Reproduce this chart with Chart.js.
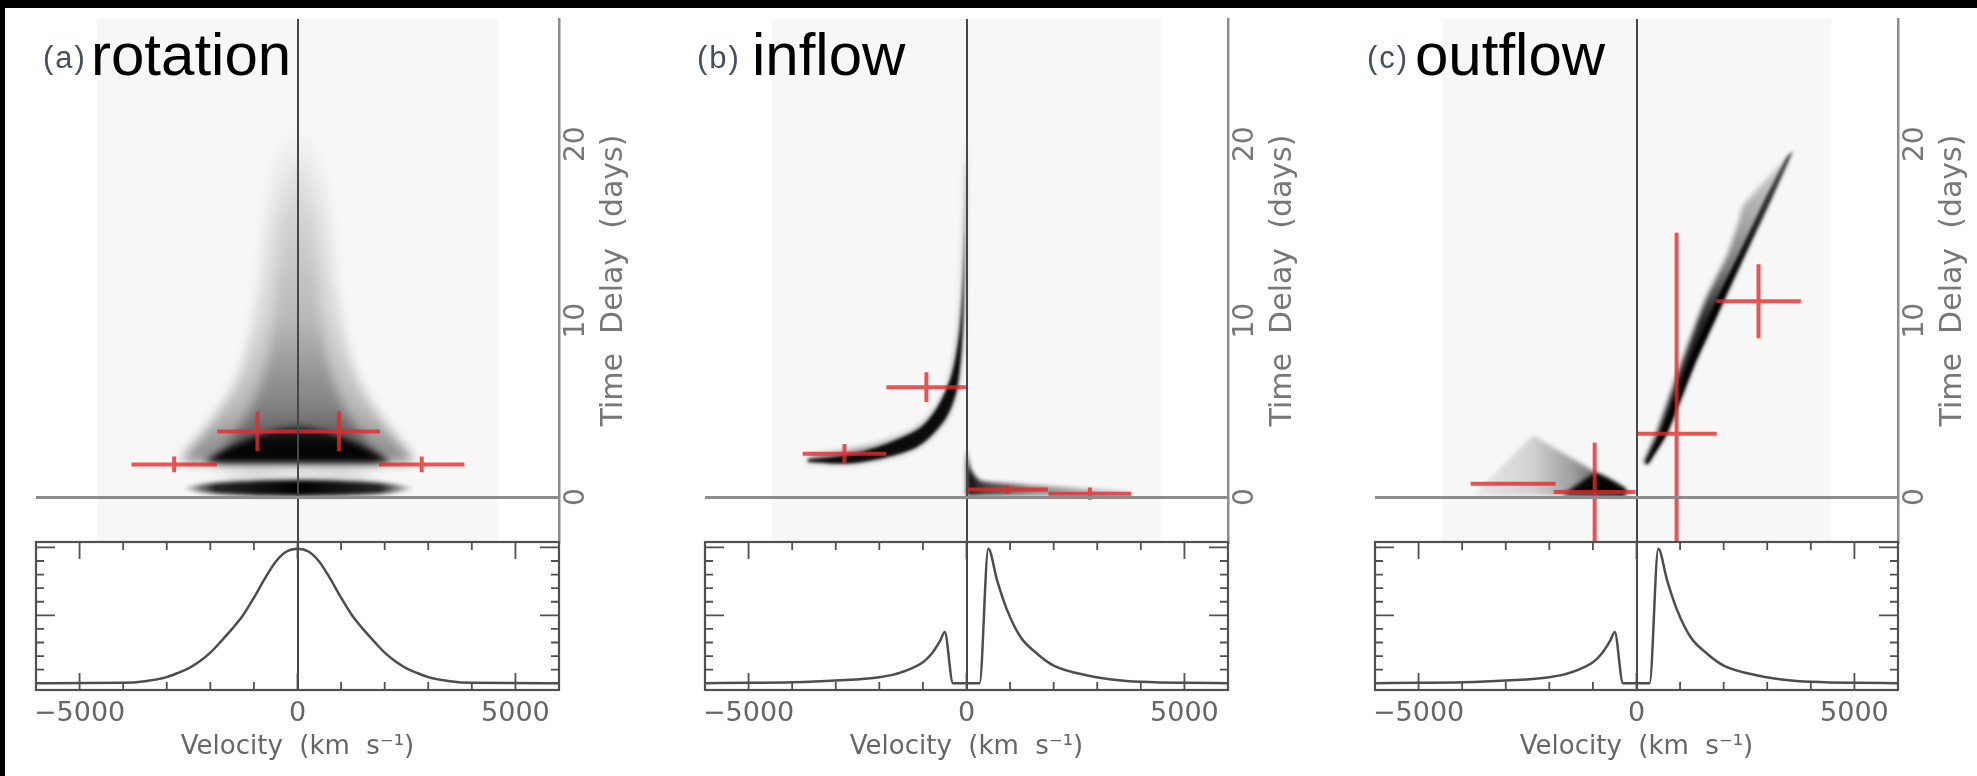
<!DOCTYPE html>
<html>
<head>
<meta charset="utf-8">
<title>Velocity-delay maps</title>
<script src="https://cdn.jsdelivr.net/npm/chart.js@4.4.1/dist/chart.umd.min.js"></script>
<style>
  html, body { margin: 0; padding: 0; width: 1977px; height: 776px; overflow: hidden; background: #000; }
  #sheet { position: absolute; left: 5px; top: 8px; width: 1972px; height: 768px; background: #fff; }
  canvas { position: absolute; top: 8px; }
  .tag { position: absolute; top: 42px; font: 31px/31px "Liberation Sans", Arial, sans-serif; color: #45505e; letter-spacing: 2px; }
  .name { position: absolute; top: 25px; font: 60px/60px "Liberation Sans", Arial, sans-serif; color: #000; }
</style>
</head>
<body>
<div id="sheet"></div>
<canvas id="panelA" width="623" height="768" style="left:26px"></canvas>
<canvas id="panelB" width="623" height="768" style="left:695px"></canvas>
<canvas id="panelC" width="623" height="768" style="left:1365px"></canvas>
<div class="tag" style="left:43px">(a)</div><div class="name" style="left:91px">rotation</div>
<div class="tag" style="left:697px">(b)</div><div class="name" style="left:752px">inflow</div>
<div class="tag" style="left:1367px">(c)</div><div class="name" style="left:1415px">outflow</div>
<script>
// axes
const velocityTicks = [-6000, -5000, -4000, -3000, -2000, -1000, 0, 1000, 2000, 3000, 4000, 5000, 6000];
const velocityLabels = [-5000, 0, 5000];
const delayLabels = [0, 10, 20];
const fluxTicks = [0, 0.1, 0.2, 0.3, 0.4, 0.5, 0.6, 0.7, 0.8, 0.9, 1];
const fluxMajor = [0, 0.5, 1];
const velocityRange = [-6000, 6000];
const delayRange = [-2.55, 27.1];
const fluxRange = [-0.05, 1.04];
const shadeHalfWidth = [4600, 4470, 4470];

// line profiles (lower boxes)
const rotProfileV = [-6000, -4000, -3500, -3000, -2750, -2500, -2250, -2000, -1750, -1500, -1250, -1000, -750, -500, -250, 0, 250, 500, 750, 1000, 1250, 1500, 1750, 2000, 2250, 2500, 2750, 3000, 3500, 4000, 6000];
const rotProfileF = [0, 0.003, 0.015, 0.045, 0.075, 0.11, 0.16, 0.225, 0.31, 0.40, 0.50, 0.63, 0.77, 0.895, 0.97, 0.99, 0.97, 0.895, 0.77, 0.63, 0.50, 0.40, 0.31, 0.225, 0.16, 0.11, 0.075, 0.045, 0.015, 0.003, 0];
const flowProfileV = [-6000, -5000, -4000, -3000, -2000, -1500, -1000, -800, -600, -500, -310, 0, 300, 500, 700, 930, 1240, 1620, 2000, 2780, 3550, 4320, 5000, 6000];
const flowProfileF = [0, 0.003, 0.007, 0.02, 0.044, 0.08, 0.155, 0.217, 0.315, 0.377, 0, 0, 0, 0.99, 0.76, 0.54, 0.34, 0.217, 0.13, 0.057, 0.02, 0.007, 0.003, 0];

// recovered delays (red crosses): centre, half-width in velocity and delay
const rotCrossV = [-920, 950, -2830, 2850];
const rotCrossT = [3.72, 3.72, 1.85, 1.85];
const rotCrossDV = [920, 940, 980, 980];
const rotCrossDT = [1.13, 1.13, 0.45, 0.45];
const inCrossV = [-2800, -920, 940, 2830];
const inCrossT = [2.45, 6.23, 0.42, 0.19];
const inCrossDV = [960, 920, 930, 950];
const inCrossDT = [0.55, 0.85, 0.25, 0.35];
const outCrossV = [-2830, -960, 920, 2800];
const outCrossT = [0.75, 0.28, 3.58, 11.1];
const outCrossDV = [975, 940, 920, 970];
const outCrossDT = [0.1, 2.8, 11.4, 2.1];

// transfer-function outlines [velocity, delay]
const rotEnvelope = [[-2650, 1.95], [-2600, 2.3], [-2300, 3.2], [-1900, 4.5], [-1420, 6.4], [-1150, 8.3], [-880, 12], [-740, 15.9], [-560, 18.5], [-350, 20], [0, 20.6], [350, 20], [560, 18.5], [740, 15.9], [880, 12], [1150, 8.3], [1420, 6.4], [1900, 4.5], [2300, 3.2], [2600, 2.3], [2650, 1.95]];
const rotCore = [[-1900, 1.95], [-1600, 3.0], [-1200, 4.5], [-850, 6.4], [-650, 8.3], [-480, 12], [-380, 15.9], [-200, 18.5], [0, 19.3], [200, 18.5], [380, 15.9], [480, 12], [650, 8.3], [850, 6.4], [1200, 4.5], [1600, 3.0], [1900, 1.95]];
const rotDome = [[-2150, 1.98], [-1900, 2.35], [-1500, 2.85], [-1000, 3.4], [-500, 3.8], [0, 4.0], [500, 3.8], [1000, 3.4], [1500, 2.85], [1900, 2.35], [2150, 1.98]];
const rotHaze = [[-2000, 0.9], [-1000, 1.55], [0, 1.35], [1000, 1.55], [2000, 0.9]];
const rotLens = [[-2650, 0.48], [-2200, 0.72], [-1500, 0.86], [-700, 0.95], [0, 0.97], [700, 0.95], [1500, 0.86], [2200, 0.72], [2650, 0.48], [2200, 0.26], [1500, 0.13], [700, 0.07], [0, 0.06], [-700, 0.07], [-1500, 0.13], [-2200, 0.26]];

const inBand = [[-3650, 2.0], [-2750, 1.9], [-1990, 2.17], [-1220, 2.74], [-840, 3.4], [-460, 4.53], [-230, 6.04], [-115, 8.3], [-61, 11.1], [-31, 14.9], [-12, 20.5], [-40, 18], [-61, 14.9], [-115, 11.1], [-230, 8.3], [-460, 6.04], [-840, 4.53], [-1220, 3.77], [-1990, 3.02], [-2750, 2.64], [-3590, 2.3]];
const inCore = [[-3650, 2.0], [-2750, 1.9], [-1990, 2.17], [-1220, 2.74], [-840, 3.4], [-460, 4.53], [-230, 6.04], [-115, 8.3], [-61, 11.1], [-31, 14.9], [-14, 19], [-45, 15.2], [-85, 12.2], [-160, 9.4], [-330, 7.0], [-640, 5.2], [-1020, 4.0], [-1600, 3.25], [-2350, 2.6], [-3100, 2.25], [-3620, 2.15]];
const inFan = [[0, 2.7], [60, 1.9], [115, 1.5], [306, 0.94], [1070, 0.75], [1835, 0.62], [2600, 0.5], [3750, 0.3], [3750, 0.12], [0, 0.08]];

const outStreak = [[250, 1.85], [690, 3.6], [1330, 7.55], [1990, 11.1], [2600, 14.3], [3100, 16.9], [3590, 19.6], [2440, 16.5], [2330, 15.5], [2100, 13.8], [1570, 11.1], [1030, 7.55], [460, 3.58], [180, 2.0]];
const outStreakCore = [[250, 1.85], [690, 3.6], [1330, 7.55], [1990, 11.1], [2600, 14.3], [3100, 16.9], [3590, 19.6], [3450, 19.3], [2950, 16.9], [2450, 14.3], [1820, 11.1], [1180, 7.55], [560, 3.6], [200, 1.95]];
const outTent = [[-3750, 0.08], [-2370, 3.49], [-270, 0.42], [-270, 0.08]];
const outTentCore = [[-1700, 0.12], [-1250, 0.9], [-950, 1.35], [-600, 1.0], [-230, 0.42], [-230, 0.12]];

// gradients laid out on the data scales
function vGrad(stops) {
  return (c) => {
    const chart = c.chart;
    if (!chart.chartArea) return 'rgba(0,0,0,0.3)';
    const y = chart.scales.yt;
    const t0 = stops[0][0], t1 = stops[stops.length - 1][0];
    const g = chart.ctx.createLinearGradient(0, y.getPixelForValue(t0), 0, y.getPixelForValue(t1));
    stops.forEach(([t, a]) => g.addColorStop((t - t0) / (t1 - t0), 'rgba(0,0,0,' + a + ')'));
    return g;
  };
}
function hGrad(stops) {
  return (c) => {
    const chart = c.chart;
    if (!chart.chartArea) return 'rgba(0,0,0,0.3)';
    const x = chart.scales.x;
    const v0 = stops[0][0], v1 = stops[stops.length - 1][0];
    const g = chart.ctx.createLinearGradient(x.getPixelForValue(v0), 0, x.getPixelForValue(v1), 0);
    stops.forEach(([v, a]) => g.addColorStop((v - v0) / (v1 - v0), 'rgba(0,0,0,' + a + ')'));
    return g;
  };
}

function poly(pts, fill, o) {
  o = o || {};
  return {
    data: pts.map(([v, t]) => ({x: v, y: t})),
    yAxisID: 'yt', fill: 'shape', backgroundColor: fill,
    borderColor: 'rgba(0,0,0,0)', borderWidth: 0, pointRadius: 0,
    tension: o.tension !== undefined ? o.tension : 0.25,
    blur: o.blur || 0, order: o.order || 5
  };
}

function crossPoints(V, T, DV, DT) {
  const pts = [];
  V.forEach((v, i) => {
    pts.push({x: v - DV[i], y: T[i]}, {x: v + DV[i], y: T[i]}, {x: v, y: null},
             {x: v, y: T[i] - DT[i]}, {x: v, y: T[i] + DT[i]}, {x: v, y: null});
  });
  return pts;
}

// clip/blur the map layers, draw the profile box and the delay axis title
const frame = {
  id: 'frame',
  beforeDatasetDraw(chart, args) {
    const ds = chart.data.datasets[args.index];
    if (ds.yAxisID !== 'yt') return;
    const {ctx, chartArea} = chart;
    const yt = chart.scales.yt;
    ctx.save();
    ctx.beginPath();
    ctx.rect(chartArea.left, yt.top, chartArea.right - chartArea.left, yt.bottom - yt.top);
    ctx.clip();
    if (ds.blur) ctx.filter = 'blur(' + ds.blur + 'px)';
  },
  afterDatasetDraw(chart, args) {
    if (chart.data.datasets[args.index].yAxisID === 'yt') chart.ctx.restore();
  },
  afterDraw(chart) {
    const {ctx, chartArea} = chart;
    const {x, yp, yt} = chart.scales;
    const left = chartArea.left, right = chartArea.right;
    ctx.save();
    ctx.strokeStyle = '#505050';
    ctx.lineWidth = 2.2;
    ctx.strokeRect(left, yp.top, right - left, yp.bottom - yp.top);
    ctx.lineWidth = 1.8;
    ctx.beginPath();
    velocityTicks.forEach(v => {
      const px = x.getPixelForValue(v);
      const len = velocityLabels.includes(v) ? 17 : 8;
      ctx.moveTo(px, yp.top); ctx.lineTo(px, yp.top + len);
      ctx.moveTo(px, yp.bottom); ctx.lineTo(px, yp.bottom - len);
    });
    fluxTicks.forEach(f => {
      const py = yp.getPixelForValue(f);
      const len = fluxMajor.includes(f) ? 19 : 8;
      ctx.moveTo(left, py); ctx.lineTo(left + len, py);
      ctx.moveTo(right, py); ctx.lineTo(right - len, py);
    });
    ctx.stroke();
    ctx.translate(yt.left + 55, (yt.top + yt.bottom) / 2);
    ctx.rotate(-Math.PI / 2);
    ctx.fillStyle = '#777';
    ctx.font = '30px "DejaVu Sans"';
    ctx.textAlign = 'center';
    ctx.textBaseline = 'middle';
    ctx.fillText('Time  Delay  (days)', 0, 0);
    ctx.restore();
  }
};

// the filler must run after our clip/blur hook
try {
  const filler = Chart.registry.getPlugin('filler');
  Chart.unregister(filler);
  Chart.register(frame, filler);
} catch (e) {
  Chart.register(frame);
}

Chart.defaults.font.family = 'DejaVu Sans';

function makePanel(id, layers, profileV, profileF, cross, shadeHalf) {
  const datasets = [
    {
      data: crossPoints(cross[0], cross[1], cross[2], cross[3]), yAxisID: 'yt',
      borderColor: 'rgba(228,42,42,0.8)', borderWidth: 4, borderCapStyle: 'butt',
      pointRadius: 0, fill: false, spanGaps: false, tension: 0, order: 0
    },
    {
      data: profileV.map((v, i) => ({x: v, y: profileF[i]})), yAxisID: 'yp',
      borderColor: '#4d4d4d', borderWidth: 2.5, pointRadius: 0, fill: false,
      cubicInterpolationMode: 'monotone', order: 0
    },
    ...layers,
    poly([[-shadeHalf, delayRange[0]], [shadeHalf, delayRange[0]], [shadeHalf, delayRange[1]], [-shadeHalf, delayRange[1]]],
         '#f7f7f7', {tension: 0, order: 20})
  ];

  new Chart(document.getElementById(id), {
    type: 'line',
    data: { datasets: datasets },
    options: {
      responsive: false,
      animation: false,
      devicePixelRatio: 1,
      events: [],
      layout: { padding: { left: 10, top: 11, right: 0, bottom: 0 } },
      plugins: { legend: { display: false }, tooltip: { enabled: false } },
      scales: {
        x: {
          type: 'linear', position: 'bottom', min: velocityRange[0], max: velocityRange[1],
          afterBuildTicks: s => { s.ticks = velocityTicks.map(v => ({value: v})); },
          afterFit: s => { s.height = 86; s.paddingLeft = 0; s.paddingRight = 0; },
          grid: {
            drawTicks: false, lineWidth: 2, z: 1,
            color: c => (c.tick && c.tick.value === 0) ? '#474747' : 'rgba(0,0,0,0)'
          },
          border: { display: false },
          ticks: {
            autoSkip: false, maxRotation: 0, padding: 8, color: '#666', font: { size: 27 },
            callback: v => velocityLabels.includes(v) ? String(v).replace('-', '\u2212') : ''
          },
          title: {
            display: true, text: 'Velocity  (km  s\u207B\u00B9)', color: '#666',
            font: { size: 26 }, padding: { top: 0, bottom: 13 }
          }
        },
        yt: {
          type: 'linear', position: 'right', stack: 'panel', stackWeight: 523,
          min: delayRange[0], max: delayRange[1],
          afterBuildTicks: s => { s.ticks = delayLabels.map(v => ({value: v})); },
          afterFit: s => { s.width = 90; s.paddingTop = 0; s.paddingBottom = 0; },
          grid: {
            drawTicks: false, lineWidth: 3, z: 1,
            color: c => (c.tick && c.tick.value === 0) ? '#8c8c8c' : 'rgba(0,0,0,0)'
          },
          border: { display: true, color: '#8c8c8c', width: 2.5, z: 1 },
          ticks: {
            autoSkip: false, minRotation: 90, maxRotation: 90, crossAlign: 'center',
            padding: 0, color: '#777', font: { size: 28 }
          }
        },
        yp: {
          type: 'linear', position: 'right', stack: 'panel', stackWeight: 148,
          min: fluxRange[0], max: fluxRange[1],
          afterFit: s => { s.width = 90; s.paddingTop = 0; s.paddingBottom = 0; },
          grid: { display: false },
          border: { display: false },
          ticks: { display: false }
        }
      }
    }
  });
}

makePanel('panelA', [
  poly(rotLens, hGrad([[-2650, 0.1], [-1900, 0.85], [0, 1], [1900, 0.85], [2650, 0.1]]), {blur: 2, tension: 0.3, order: 2}),
  poly(rotDome, vGrad([[1.98, 0.97], [3.0, 0.93], [4.0, 0.6]]), {blur: 3, tension: 0.3, order: 3}),
  poly(rotHaze, 'rgba(0,0,0,0.13)', {blur: 5, order: 4}),
  poly(rotCore, vGrad([[2, 0.5], [5, 0.3], [10, 0.14], [16, 0.07], [19.3, 0.02]]), {blur: 6, order: 5}),
  poly(rotEnvelope, vGrad([[2, 0.45], [5, 0.25], [10, 0.13], [16, 0.07], [20.6, 0.02]]), {blur: 6, order: 6})
], rotProfileV, rotProfileF, [rotCrossV, rotCrossT, rotCrossDV, rotCrossDT], shadeHalfWidth[0]);

makePanel('panelB', [
  poly(inCore, 'rgba(0,0,0,0.92)', {blur: 1.5, tension: 0.3, order: 2}),
  poly(inBand, 'rgba(0,0,0,0.45)', {blur: 3, tension: 0.3, order: 3}),
  poly(inFan, hGrad([[0, 0.95], [400, 0.75], [1500, 0.45], [3750, 0.15]]), {blur: 2, tension: 0.2, order: 4})
], flowProfileV, flowProfileF, [inCrossV, inCrossT, inCrossDV, inCrossDT], shadeHalfWidth[1]);

makePanel('panelC', [
  poly(outStreakCore, vGrad([[1.85, 1], [12, 0.95], [19.6, 0.6]]), {blur: 1.5, tension: 0.1, order: 2}),
  poly(outStreak, vGrad([[2, 0.9], [10, 0.85], [13, 0.5], [16, 0.3], [19.6, 0.15]]), {blur: 2.5, tension: 0.1, order: 3}),
  poly(outTentCore, 'rgba(0,0,0,0.95)', {blur: 2, tension: 0.2, order: 4}),
  poly(outTent, hGrad([[-3750, 0.06], [-2400, 0.15], [-1500, 0.35], [-800, 0.6], [-270, 0.8]]), {blur: 2, tension: 0, order: 5})
], flowProfileV, flowProfileF, [outCrossV, outCrossT, outCrossDV, outCrossDT], shadeHalfWidth[2]);
</script>
</body>
</html>
